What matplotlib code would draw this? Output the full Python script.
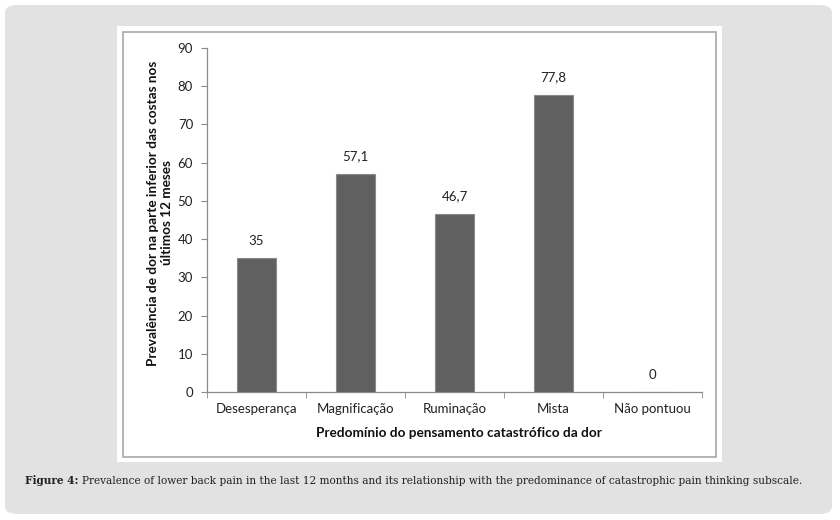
import matplotlib
matplotlib.use("Agg")
import matplotlib.pyplot as plt
from matplotlib.patches import FancyBboxPatch, Rectangle

categories = ["Desesperança", "Magnificação", "Ruminação", "Mista", "Não pontuou"]
values = [35, 57.1, 46.7, 77.8, 0]
value_labels = ["35", "57,1", "46,7", "77,8", "0"]
y_ticks = [0, 10, 20, 30, 40, 50, 60, 70, 80, 90]
x_title = "Predomínio do pensamento catastrófico da dor"
y_title = "Prevalência de dor na parte inferior das costas nos\núltimos 12 meses"
cap_bold = "Figure 4:"
cap_text = ("Prevalence of lower back pain in the last 12 months and its relationship "
            "with the predominance of catastrophic pain thinking subscale.")

W, H = 840, 520
fig = plt.figure(figsize=(W / 100, H / 100), dpi=100, facecolor="white")
renderer = fig.canvas.get_renderer()

def fx(px):
    return px / W

def fy(py):
    return 1 - py / H

def fit(t, target, vertical=False):
    bb = t.get_window_extent(renderer)
    size = bb.height if vertical else bb.width
    t.set_fontsize(t.get_fontsize() * target / size)

# outer gray rounded panel
fig.patches.append(FancyBboxPatch((fx(5), fy(514)), fx(827), 509 / H,
                                  boxstyle="round,pad=0,rounding_size=0.015",
                                  transform=fig.transFigure, facecolor="#e2e2e2",
                                  edgecolor="none", zorder=0))
# white panel
fig.patches.append(Rectangle((fx(117), fy(462)), fx(605), 436 / H,
                             transform=fig.transFigure, facecolor="white",
                             edgecolor="none", zorder=1))
# chart border
fig.patches.append(Rectangle((fx(123), fy(457)), fx(593), 425 / H,
                             transform=fig.transFigure, facecolor="none",
                             edgecolor="#a8a8a8", linewidth=1.2, zorder=2))

font = "Lato"
ax = fig.add_axes([fx(207), fy(392), fx(495), 344 / H])
ax.set_facecolor("none")
ax.set_zorder(3)
x = list(range(len(categories)))
ax.bar(x, values, width=0.4, color="#606060", edgecolor="#8a8a8a", linewidth=0.8, zorder=3)
for xi, v, lab in zip(x, values, value_labels):
    ax.annotate(lab, (xi, v), xytext=(0, 8), textcoords="offset points",
                ha="center", va="bottom", fontsize=9.5, family=font, color="#222222")
ax.set_xlim(-0.5, len(categories) - 0.5)
ax.set_ylim(0, 90)
ax.set_yticks(y_ticks)
ax.set_yticklabels([str(t) for t in y_ticks], fontsize=9.5, family=font, color="#222222")
ax.set_xticks(x)
ax.set_xticklabels(categories, fontsize=9.5, family=font, color="#222222")
ax.set_xticks([i - 0.5 for i in range(len(categories) + 1)], minor=True)
ax.tick_params(axis="x", which="major", length=0, pad=8)
ax.tick_params(axis="x", which="minor", length=4, color="#8a8a8a", direction="out")
ax.tick_params(axis="y", length=4, color="#8a8a8a", direction="out", pad=6)
for s in ["top", "right"]:
    ax.spines[s].set_visible(False)
for s in ["left", "bottom"]:
    ax.spines[s].set_color("#8a8a8a")
    ax.spines[s].set_linewidth(0.9)

yt = fig.text(fx(160), fy(213), y_title, fontsize=10, family=font, fontweight="bold",
              color="#111111", ha="center", va="center", rotation=90,
              rotation_mode="anchor", linespacing=1.15, multialignment="center")
fit(yt, 306, vertical=True)
xt = fig.text(fx(316), fy(433), x_title, fontsize=yt.get_fontsize(), family=font,
              fontweight="bold", color="#111111", ha="left", va="center")

c1 = fig.text(fx(25), fy(481), cap_bold, family="DejaVu Serif", fontweight="bold",
              fontsize=8.5, color="#222222", va="center", ha="left")
c2 = fig.text(fx(80), fy(481), cap_text, family="DejaVu Serif", fontsize=8.5,
              color="#222222", va="center", ha="left")
w1 = c1.get_window_extent(renderer).width
w2 = c2.get_window_extent(renderer).width
scale = (800 - 25) / (w1 + w2 + 4)
c1.set_fontsize(8.5 * scale)
c2.set_fontsize(8.5 * scale)
w1 = c1.get_window_extent(renderer).width
c2.set_x(fx(25 + w1 + 4))

fig.savefig("out.png", dpi=100, facecolor="white")
